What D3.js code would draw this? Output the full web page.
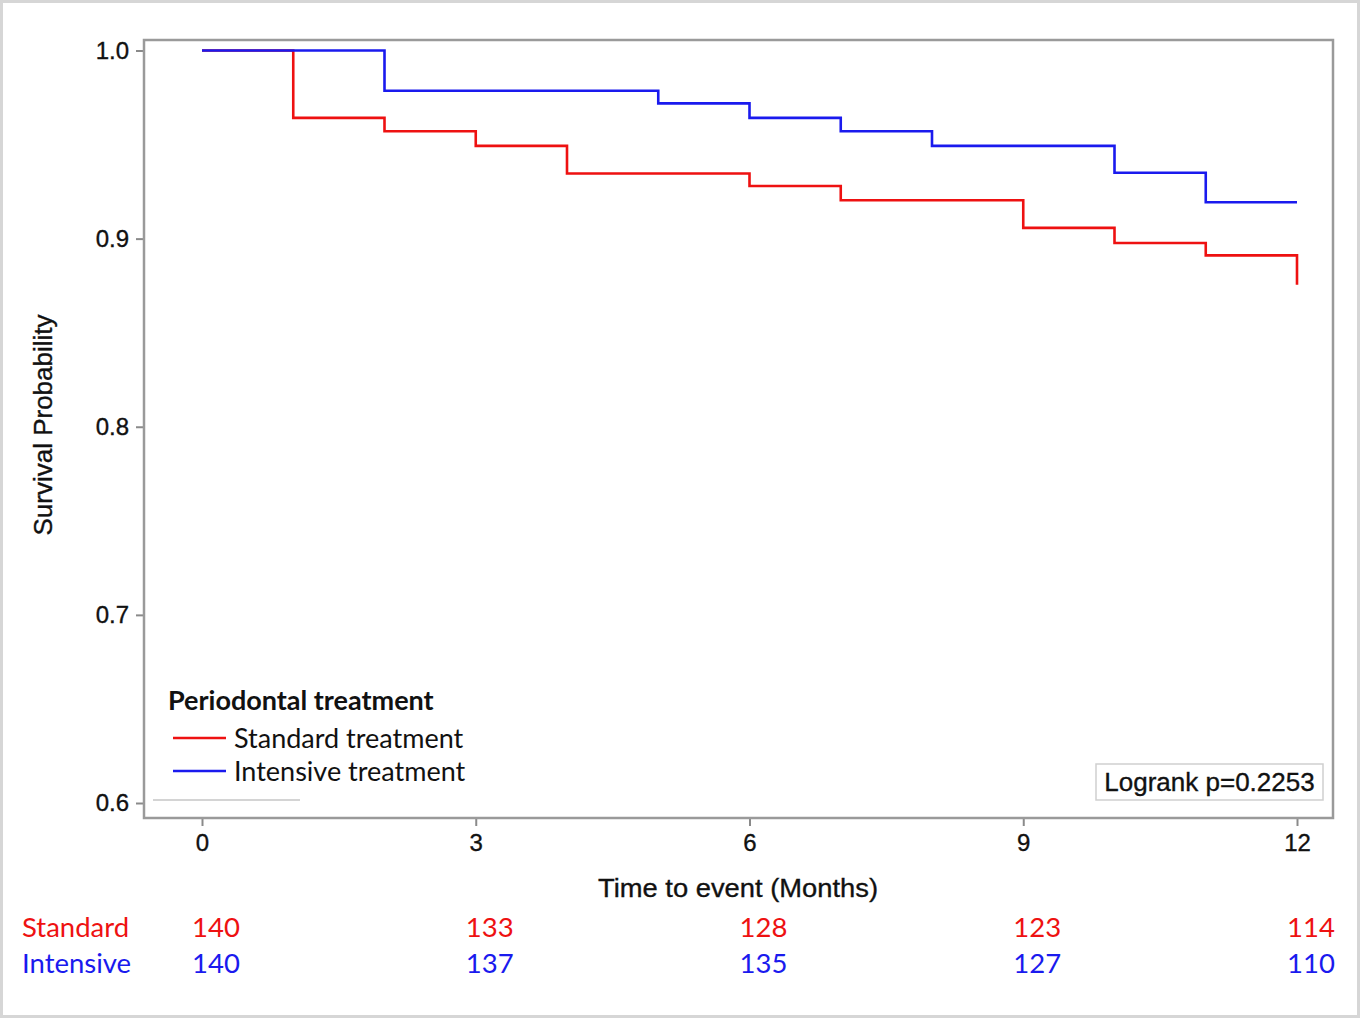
<!DOCTYPE html>
<html>
<head>
<meta charset="utf-8">
<title>Kaplan-Meier: Periodontal treatment</title>
<script src="https://cdn.jsdelivr.net/npm/d3@7"></script>
<style>
  body { margin: 0; background: #fff; }
  .axis text, .arial { font-family: "Liberation Sans", Arial, sans-serif; stroke: #111; stroke-width: 0.35px; }
  .cal { font-family: Lato, "Open Sans", sans-serif; }
</style>
</head>
<body>
<svg id="chart" width="1360" height="1018"></svg>
<script>
// step times (months) and survival after each drop
var stdTimes = [0, 1, 2, 3, 4, 6, 7, 9, 10, 11, 12];
var stdSurv  = [1.0, 0.9642, 0.9571, 0.9493, 0.9346, 0.9280, 0.9204, 0.9057, 0.8977, 0.8911, 0.8755];
var intTimes = [0, 2, 5, 6, 7, 8, 10, 11, 12];
var intSurv  = [1.0, 0.9786, 0.9719, 0.9642, 0.9571, 0.9493, 0.9350, 0.9193, 0.9193];

var xTicks = [0, 3, 6, 9, 12];
var yTicks = [0.6, 0.7, 0.8, 0.9, 1.0];
var riskStd = [140, 133, 128, 123, 114];
var riskInt = [140, 137, 135, 127, 110];

var RED = "#ee1111", BLUE = "#1a1aee";

var svg = d3.select("#chart");

// outer image border
svg.append("rect")
  .attr("x", 1.5).attr("y", 1.5).attr("width", 1357).attr("height", 1015)
  .attr("fill", "#fff").attr("stroke", "#d6d6d6").attr("stroke-width", 3);

var x = d3.scaleLinear().domain([0, 12]).range([202, 1297]);
var y = d3.scaleLinear().domain([0.6, 1.0]).range([803, 50.5]);

var frame = {left: 144, right: 1333, top: 40, bottom: 818};

// y axis
var yAxis = svg.append("g").attr("class", "axis")
  .attr("transform", "translate(" + frame.left + ",0)")
  .call(d3.axisLeft(y).tickValues(yTicks).tickFormat(d3.format(".1f")).tickSize(8).tickPadding(7));
yAxis.select(".domain").remove();
yAxis.selectAll("line").attr("stroke", "#8a8a8a").attr("stroke-width", 2);
yAxis.selectAll("text").attr("font-size", 24).attr("fill", "#111");

// x axis
var xAxis = svg.append("g").attr("class", "axis")
  .attr("transform", "translate(0," + frame.bottom + ")")
  .call(d3.axisBottom(x).tickValues(xTicks).tickSize(8).tickPadding(8));
xAxis.select(".domain").remove();
xAxis.selectAll("line").attr("stroke", "#8a8a8a").attr("stroke-width", 2);
xAxis.selectAll("text").attr("font-size", 24).attr("fill", "#111");

// plot frame
svg.append("rect")
  .attr("x", frame.left).attr("y", frame.top)
  .attr("width", frame.right - frame.left).attr("height", frame.bottom - frame.top)
  .attr("fill", "none").attr("stroke", "#9a9a9a").attr("stroke-width", 2.5);

// curves
function stepData(times, surv) {
  return times.map(function(t, i) { return [t, surv[i]]; });
}
var line = d3.line().curve(d3.curveStepAfter)
  .x(function(d) { return x(d[0]); })
  .y(function(d) { return y(d[1]); });

svg.append("path").datum(stepData(stdTimes, stdSurv))
  .attr("fill", "none").attr("stroke", RED).attr("stroke-width", 2.6).attr("d", line);
svg.append("path").datum(stepData(intTimes, intSurv))
  .attr("fill", "none").attr("stroke", BLUE).attr("stroke-width", 2.6).attr("d", line);

// axis titles
svg.append("text").attr("class", "arial")
  .attr("transform", "translate(52,425) rotate(-90)")
  .attr("text-anchor", "middle").attr("font-size", 26).attr("fill", "#111")
  .text("Survival Probability");
svg.append("text").attr("class", "arial")
  .attr("x", 738).attr("y", 897)
  .attr("text-anchor", "middle").attr("font-size", 26).attr("fill", "#111")
  .attr("textLength", 280).attr("lengthAdjust", "spacingAndGlyphs")
  .text("Time to event (Months)");

// legend
var leg = svg.append("g").attr("class", "cal");
leg.append("text").attr("x", 168).attr("y", 710)
  .attr("font-size", 27).attr("font-weight", "bold").attr("fill", "#111")
  .text("Periodontal treatment");
var legItems = [["Standard treatment", RED, 738], ["Intensive treatment", BLUE, 771]];
legItems.forEach(function(it) {
  leg.append("line").attr("x1", 173).attr("x2", 226).attr("y1", it[2]).attr("y2", it[2])
    .attr("stroke", it[1]).attr("stroke-width", 2.6);
  leg.append("text").attr("x", 234).attr("y", it[2] + 10)
    .attr("font-size", 27).attr("fill", "#111").text(it[0]);
});
svg.append("line").attr("x1", 153).attr("x2", 300).attr("y1", 800).attr("y2", 800)
  .attr("stroke", "#d4d4d4").attr("stroke-width", 2);

// logrank box
svg.append("rect").attr("x", 1096).attr("y", 764).attr("width", 227).attr("height", 36)
  .attr("fill", "#fff").attr("stroke", "#cfcfcf").attr("stroke-width", 1.5);
svg.append("text").attr("class", "arial").attr("x", 1209.5).attr("y", 791)
  .attr("text-anchor", "middle").attr("font-size", 26).attr("fill", "#111")
  .text("Logrank p=0.2253");

// numbers at risk
var risk = svg.append("g").attr("class", "cal").attr("font-size", 27.5);
risk.append("text").attr("x", 22).attr("y", 937).attr("fill", RED).text("Standard");
risk.append("text").attr("x", 22).attr("y", 973).attr("fill", BLUE).text("Intensive");
risk.selectAll(".rs").data(riskStd).enter().append("text")
  .attr("x", function(d, i) { return x(xTicks[i]) + 14; }).attr("y", 937)
  .attr("text-anchor", "middle").attr("fill", RED).text(function(d) { return d; });
risk.selectAll(".ri").data(riskInt).enter().append("text")
  .attr("x", function(d, i) { return x(xTicks[i]) + 14; }).attr("y", 973)
  .attr("text-anchor", "middle").attr("fill", BLUE).text(function(d) { return d; });
</script>
</body>
</html>
